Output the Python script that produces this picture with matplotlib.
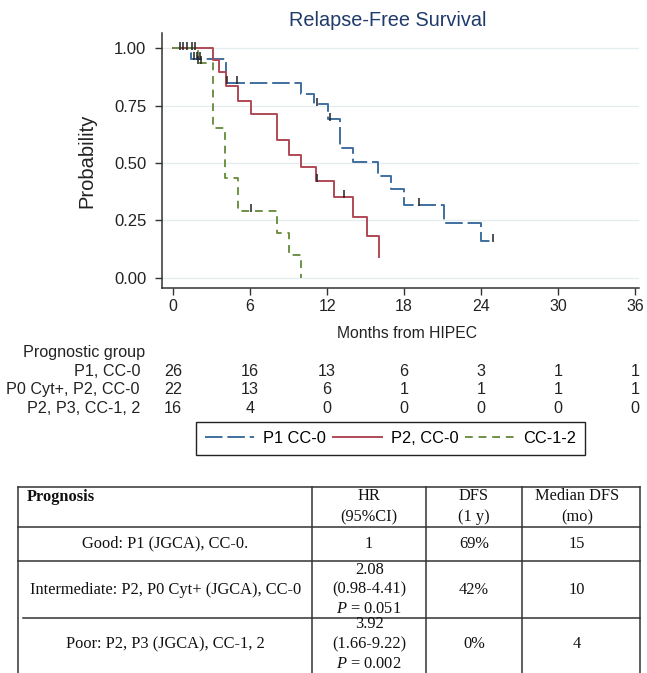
import numpy as np
import matplotlib.pyplot as plt
from matplotlib.lines import Line2D
from matplotlib import transforms

plt.rcParams['font.family'] = ['Liberation Sans', 'DejaVu Sans']
plt.rcParams['mathtext.fontset'] = 'custom'
plt.rcParams['mathtext.rm'] = 'Liberation Serif'
plt.rcParams['mathtext.it'] = 'Liberation Serif:italic'

W, H = 647, 673

# Kaplan-Meier steps (months, survival after the step)
p1_times = [0, 1.4, 4.1, 10.0, 11.0, 12.1, 13.0, 14.0, 16.0, 17.0, 18.0, 21.1, 24.0]
p1_surv = [1.0, 0.953, 0.850, 0.801, 0.756, 0.690, 0.567, 0.506, 0.443, 0.385, 0.317, 0.237, 0.161]
p1_end = 24.9
p1_censor = [1.65, 1.85, 2.1, 4.2, 5.0, 11.2, 12.2, 19.2, 24.9]

p2_times = [0, 3.07, 3.6, 4.1, 5.07, 6.04, 8.07, 9.0, 10.0, 11.1, 12.5, 14.05, 15.1, 16.07]
p2_surv = [1.0, 0.949, 0.895, 0.837, 0.772, 0.714, 0.599, 0.537, 0.483, 0.423, 0.353, 0.266, 0.182, 0.092]
p2_end = 16.07
p2_censor = [0.5, 0.8, 1.05, 1.45, 11.2, 13.3]

cc_times = [0, 1.9, 3.07, 4.05, 5.07, 8.07, 9.02, 10.0]
cc_surv = [1.0, 0.9375, 0.651, 0.433, 0.291, 0.194, 0.099, 0.0]
cc_end = 10.0
cc_censor = [1.7, 1.95, 2.2, 6.05]

legend_labels = ['P1 CC-0', 'P2, CC-0', 'CC-1-2']

# number at risk
risk_times = [0, 6, 12, 18, 24, 30, 36]
risk_labels = ['P1, CC-0', 'P0 Cyt+, P2, CC-0', 'P2, P3, CC-1, 2']
risk_p1 = [26, 16, 13, 6, 3, 1, 1]
risk_p2 = [22, 13, 6, 1, 1, 1, 1]
risk_cc = [16, 4, 0, 0, 0, 0, 0]

# summary table below
tab_header = [['Prognosis'], ['HR', '(95%CI)'], ['DFS', '(1 y)'], ['Median DFS', '(mo)']]
tab_rows = [
    [['Good: P1 (JGCA), CC-0.'], ['1'], ['69%'], ['15']],
    [['Intermediate: P2, P0 Cyt+ (JGCA), CC-0'], ['2.08', '(0.98-4.41)', '$P$ = 0.051'], ['42%'], ['10']],
    [['Poor: P2, P3 (JGCA), CC-1, 2'], ['3.92', '(1.66-9.22)', '$P$ = 0.002'], ['0%'], ['4']],
]

blue = '#3f6f9f'
red = '#b04a55'
green = '#6f9147'
txt = '#222222'

fig = plt.figure(figsize=(W / 100, H / 100), dpi=100)

# ---- KM plot ----
ax = fig.add_axes([161.7 / W, 1 - 288 / H, 477 / W, 255 / H])
ax.set_xlim(-0.9, 36.3)
ax.set_ylim(-0.045, 1.067)

series = [
    (p1_times, p1_surv, p1_end, p1_censor, blue, (9, 2.5)),
    (p2_times, p2_surv, p2_end, p2_censor, red, None),
    (cc_times, cc_surv, cc_end, cc_censor, green, (4, 3)),
]
handles = []
for times, surv, end, cens, col, dash in series:
    xs = list(times) + [end]
    ys = list(surv) + [surv[-1]]
    ln, = ax.step(xs, ys, where='post', color=col, lw=1.4, zorder=3)
    h = Line2D([], [], color=col, lw=1.4)
    if dash:
        ln.set_dashes(dash)
        h.set_dashes(dash)
    handles.append(h)
    idx = np.searchsorted(times, cens, side='right') - 1
    cy = np.array(surv)[idx]
    ax.plot(cens, cy + 0.012, ls='none', marker='|', ms=6, mew=1.1, color=txt, zorder=4)

ax.set_yticks([0, 0.25, 0.5, 0.75, 1.0])
ax.set_yticklabels(['0.00', '0.25', '0.50', '0.75', '1.00'])
ax.set_xticks(risk_times)
for yv in [0, 0.25, 0.5, 0.75, 1.0]:
    ax.axhline(yv, color='#e4ecef', lw=0.9, zorder=1)
for s in ['top', 'right']:
    ax.spines[s].set_visible(False)
for s in ['left', 'bottom']:
    ax.spines[s].set_color('#333333')
    ax.spines[s].set_linewidth(1.1)
ax.tick_params(length=5, width=1, color='#333333', labelcolor=txt)
ax.tick_params(axis='y', pad=6, labelsize=12)
ax.tick_params(axis='x', pad=3, labelsize=11.5)
ax.set_ylabel('Probability', fontsize=14.5, color=txt)
ax.yaxis.set_label_coords((96.7 - 161.7) / 477, 0.5)

fig.text(388 / W, 1 - 20 / H, 'Relapse-Free Survival', fontsize=14.3, color='#1f3a6b',
         ha='center', va='center')
fig.text(407 / W, 1 - 334 / H, 'Months from HIPEC', fontsize=11.3, color=txt,
         ha='center', va='center')

# ---- overlay in pixel coordinates for the text tables ----
ov = fig.add_axes([0, 0, 1, 1])
ov.set_xlim(0, W)
ov.set_ylim(H, 0)
ov.axis('off')

rsize = 11.6
ov.text(23, 352, 'Prognostic group', fontsize=rsize, color=txt, va='center', ha='left')
row_y = [371.7, 389.3, 408.3]
mix = transforms.blended_transform_factory(ax.transData, ov.transData)
for lab, counts, yy in zip(risk_labels, [risk_p1, risk_p2, risk_cc], row_y):
    ov.text(140, yy, lab, fontsize=rsize, color=txt, ha='right', va='center')
    for t, n in zip(risk_times, counts):
        ov.text(t, yy, str(n), transform=mix, fontsize=rsize, color=txt,
                ha='center', va='center')

leg = fig.legend(handles, legend_labels, loc='upper left',
                 bbox_to_anchor=(196 / W, 1 - 421.7 / H), ncol=3, frameon=True,
                 fancybox=False, edgecolor=txt, framealpha=1, fontsize=11.8,
                 handlelength=3.0, handletextpad=0.55, columnspacing=0.4,
                 borderpad=0.55, borderaxespad=0)
leg.get_frame().set_linewidth(1.0)

# ---- summary table ----
col_x = [18.3, 312, 426.4, 521.5, 640]
row_lines = [486.7, 526.7, 561, 618.3, 690]
serif = ['Liberation Serif', 'DejaVu Serif']
tsize = 11.8
lc = '#333333'
for yl in row_lines[:-1]:
    x0 = 23 if yl == 618.3 else col_x[0]
    ov.plot([x0, col_x[-1]], [yl, yl], color=lc, lw=1.1)
for xl in col_x:
    ov.plot([xl, xl], [row_lines[0], row_lines[-1]], color=lc, lw=1.1)

centers = [(col_x[i] + col_x[i + 1]) / 2 for i in range(4)]
centers[3] = 577

# header
ov.text(26.7, 497, tab_header[0][0], family=serif, fontsize=tsize, fontweight='bold',
        ha='left', va='center', color='#111111')
for j in range(1, 4):
    for k, line in enumerate(tab_header[j]):
        ov.text(centers[j], 496.5 + k * 20.5, line, family=serif, fontsize=tsize,
                ha='center', va='center', color='#111111')

line_gap = 19.5
for i, row in enumerate(tab_rows):
    top, bot = row_lines[i + 1], row_lines[i + 2]
    mid = (top + bot) / 2 if i < 2 else 644
    for j, cell in enumerate(row):
        n = len(cell)
        for k, line in enumerate(cell):
            yy = mid + (k - (n - 1) / 2) * line_gap
            ov.text(centers[j], yy, line, family=serif, fontsize=tsize,
                    ha='center', va='center', color='#111111')

fig.savefig('out.png', dpi=100)
